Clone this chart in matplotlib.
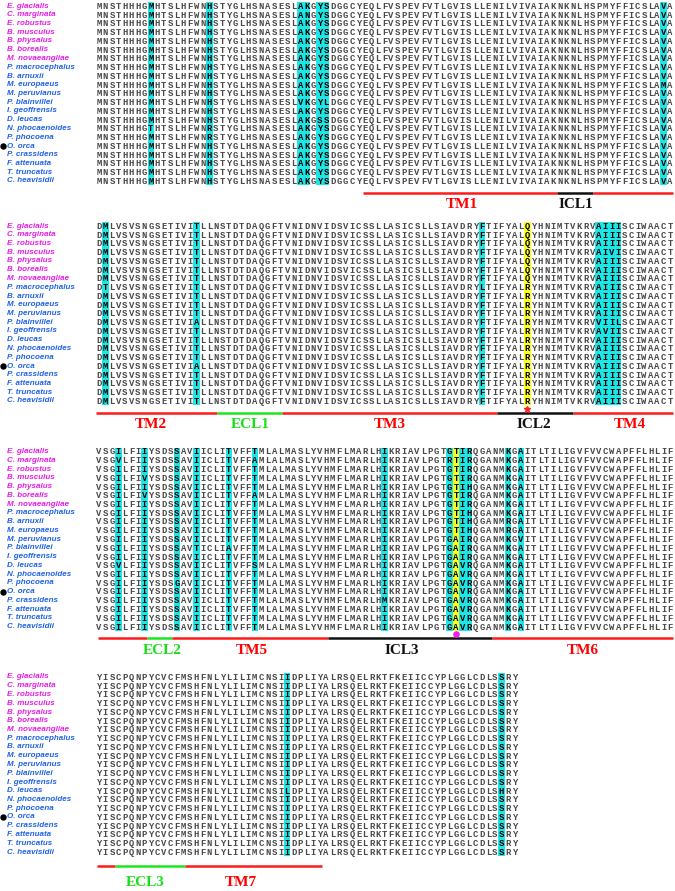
import matplotlib
matplotlib.use("Agg")
import matplotlib.pyplot as plt
from matplotlib.patches import Rectangle

# species and their label colours
species = ["E. glacialis", "C. marginata", "E. robustus", "B. musculus", "B. physalus",
           "B. borealis", "M. novaeangliae", "P. macrocephalus", "B. arnuxii", "M. europaeus",
           "M. peruvianus", "P. blainvillei", "I. geoffrensis", "D. leucas", "N. phocaenoides",
           "P. phocoena", "O. orca", "P. crassidens", "F. attenuata", "T. truncatus", "C. heavisidii"]
n_baleen = 7          # first 7 names drawn in magenta
marked = "O. orca"    # gets the black dot

# consensus per block + substitutions {species index: {column (1-based): residue}}
base1 = "MNSTHHHGMHTSLHFWNHSTYGLHSNASESLAKGYSDGGCYEQLFVSPEVFVTLGVISLLENILVIVAIAKNKNLHSPMYFFICSLAVA"
var1 = {1: {33: "N"}, 9: {88: "M"}, 11: {32: "V", 36: "L"}, 13: {35: "S"},
        14: {9: "T", 18: "R"}, 15: {18: "R"}}
cyan1 = [9, 18, 32, 33, 35, 36, 88]
yellow1 = []

base2 = "DMLVSVSNGSETIVITLLNSTDTDAQGFTVNIDNVIDSVICSSLLASICSLLSIAVDRYFTIFYALRYHNIMTVKRVAIIISCIWAACT"
var2 = {0: {67: "Q"}, 1: {67: "Q"}, 2: {67: "Q"}, 3: {67: "Q", 80: "V"}, 4: {67: "Q"},
        5: {67: "Q"}, 6: {67: "Q"}, 7: {2: "T", 60: "L"}, 11: {16: "A", 78: "V", 81: "L"},
        12: {79: "V"}, 16: {16: "A"}}
cyan2 = [2, 16, 60, 78, 79, 80, 81]
yellow2 = [67]

base3 = "VSGILFIIYSDSSAVIICLITVFFTMLALMASLYVHMFLMARLHIKRIAVLPGTGTIRQGANMKGAITLTILIGVFVVCWAPFFLHLIF"
var3 = {1: {4: "V", 25: "A", 55: "R"}, 3: {8: "V"}, 4: {58: "H"}, 5: {8: "V", 25: "A"},
        7: {58: "H"}, 8: {58: "H", 64: "R"}, 9: {58: "H", 64: "R"}, 10: {56: "A", 66: "V"},
        11: {16: "T", 21: "A", 56: "A"}, 12: {56: "A"}, 13: {4: "V", 25: "S", 56: "A", 57: "V"},
        14: {56: "A", 57: "V"}, 15: {13: "G", 56: "A", 57: "V"}, 16: {56: "A", 57: "V"},
        17: {45: "M", 56: "A", 57: "V"}, 18: {56: "A", 57: "V"}, 19: {56: "A", 57: "V"},
        20: {56: "A", 57: "V"}}
cyan3 = [4, 8, 13, 16, 21, 25, 45, 55, 57, 58, 64, 66]
yellow3 = [56]

base4 = "YISCPQNPYCVCFMSHFNLYLILIMCNSIIDPLIYALRSQELRKTFKEIICCYPLGGLCDLSSRY"
var4 = {13: {30: "L", 63: "H"}}
cyan4 = [30, 63]
yellow4 = []

# topology bars: (start col edge, end col edge, type), labels: (centre col, text, type)
segs1 = [(41.2, 71.1, "TM"), (71.1, 76.6, "ICL"), (76.6, 89, "TM")]
labs1 = [(56.4, "TM1", "TM"), (74.0, "ICL1", "ICL")]
segs2 = [(0, 18.7, "TM"), (18.7, 28.7, "ECL"), (28.7, 61.8, "TM"), (61.8, 73.5, "ICL"), (73.5, 89, "TM")]
labs2 = [(8.5, "TM2", "TM"), (23.8, "ECL1", "ECL"), (45.3, "TM3", "TM"), (67.5, "ICL2", "ICL"),
         (82.3, "TM4", "TM")]
segs3 = [(0.3, 7.9, "TM"), (7.9, 11.8, "ECL"), (11.8, 35.8, "TM"), (35.8, 61.1, "ICL"), (61.1, 89, "TM")]
labs3 = [(10.2, "ECL2", "ECL"), (24.1, "TM5", "TM"), (47.2, "ICL3", "ICL"), (75.1, "TM6", "TM")]
segs4 = [(0.2, 3.0, "TM"), (3.0, 13.7, "ECL"), (13.7, 34.9, "TM")]
labs4 = [(7.6, "ECL3", "ECL"), (22.4, "TM7", "TM")]

star_col = 67    # red star under block 2
dot_col = 56     # magenta dot under block 3

blocks = [
    (base1, var1, cyan1, yellow1, segs1, labs1),
    (base2, var2, cyan2, yellow2, segs2, labs2),
    (base3, var3, cyan3, yellow3, segs3, labs3),
    (base4, var4, cyan4, yellow4, segs4, labs4),
]

# layout (pixels)
W, H = 675, 891
block_top = [6, 226, 451.7, 677]
line_off = [12, 11.7, 11.7, 14]
lab_off = [23, 23, 24, 30]
row_h = 8.75
x0 = 99.0      # centre of column 1
dx = 6.49
seg_colors = {"TM": "#ff1a1a", "ECL": "#1ee61e", "ICL": "#111111"}
lab_colors = {"TM": "#ff0000", "ECL": "#18e018", "ICL": "#111111"}
cyan = "#1fe6e6"
yellow = "#ffff1a"

fig = plt.figure(figsize=(W / 100, H / 100), dpi=100)
ax = fig.add_axes([0, 0, 1, 1])
ax.set_xlim(0, W)
ax.set_ylim(H, 0)
ax.axis("off")


def colx(c):
    return x0 + (c - 1) * dx


for b, (base, var, cy, ye, segs, labs) in enumerate(blocks):
    top = block_top[b]
    ys = [top + i * row_h for i in range(len(species))]
    # shaded columns
    for c in cy + ye:
        col = yellow if c in ye else cyan
        ax.add_patch(Rectangle((colx(c) - dx / 2, ys[0] - 3.9), dx, ys[-1] - ys[0] + 7.8,
                               facecolor=col, edgecolor="none", zorder=1))
    hl = set(cy + ye)
    for i, name in enumerate(species):
        y = ys[i]
        ncol = "#e81ee8" if i < n_baleen else "#1f62e8"
        ax.text(7, y, name, color=ncol, fontsize=5.8, style="italic", weight="bold",
                family="Liberation Sans", ha="left", va="center", zorder=3)
        if name == marked:
            ax.plot(3.3, y, "o", color="black", ms=3.6, zorder=3)
        seq = list(base)
        for c, r in var.get(i, {}).items():
            seq[c - 1] = r
        for j, ch in enumerate(seq):
            c = j + 1
            ax.text(colx(c), y + 0.3, ch, fontsize=6.4, family="Liberation Mono", weight="bold",
                    color="black" if c in hl else "#484848", ha="center", va="center", zorder=3)
    # topology bar and labels
    ly = ys[-1] + line_off[b]
    edge0 = x0 - dx / 2
    for s, e, kind in segs:
        ax.plot([edge0 + s * dx, edge0 + e * dx], [ly, ly], color=seg_colors[kind], lw=1.8,
                solid_capstyle="butt", zorder=2)
    for c, txt, kind in labs:
        ax.text(edge0 + c * dx, ys[-1] + lab_off[b], txt, color=lab_colors[kind], fontsize=11,
                family="Liberation Serif", weight="bold", ha="center", va="center")
    if b == 1:
        ax.plot(colx(star_col), ly - 3.5, "*", color="#ff2020", ms=4.5, zorder=4)
    if b == 2:
        ax.plot(colx(dot_col), ly - 4.5, "o", color="#f01ef0", ms=3.8, zorder=4)

fig.savefig("out.png", dpi=100)
